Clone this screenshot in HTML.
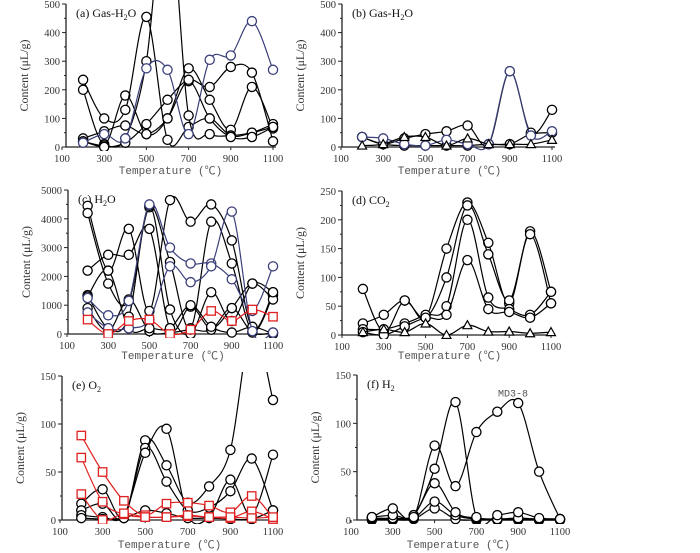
<!DOCTYPE html>
<html><head><meta charset="utf-8"><style>
body{margin:0;background:#fff}
svg{display:block}
text{font-family:"Liberation Serif","Noto Serif CJK SC",serif;fill:#333}
.mono{font-family:"Liberation Mono","Noto Sans CJK SC",monospace;fill:#555}
</style></head><body>
<svg id="chart" width="700" height="553" viewBox="0 0 700 553" xmlns="http://www.w3.org/2000/svg"></svg>
<script>
const temps=[200,300,400,500,600,700,800,900,1000,1100];
const xTicks=[100,300,500,700,900,1100];
// panel a
const aBlue=[15,45,30,275,270,45,305,320,440,270];
const aS1=[200,10,180,45,100,275,165,60,210,65];
const aS2=[235,100,130,455,25,70,100,40,50,80];
const aS3=[20,5,30,300,900,110,45,40,50,70];
const aS4=[30,55,75,45,100,230,100,35,35,70];
const aS5=[20,0,15,80,165,235,210,280,260,20];
// panel b
const bBlue=[35,30,10,5,25,10,10,265,40,55];
const bS1=[35,10,30,45,55,75,10,265,50,130];
const bS2=[35,10,5,5,5,5,10,10,45,50];
const bTri=[5,10,35,35,5,30,10,10,10,25];
// panel c
const cS1=[4450,2200,3650,800,4650,3900,4500,3250,200,1450];
const cS2=[4200,1750,1150,4400,2500,200,3900,2450,100,1350];
const cS3=[2200,2750,2750,3650,200,950,200,900,1750,1200];
const cS4=[1350,200,600,4450,850,0,1450,450,1750,1450];
const cS5=[900,100,1200,100,50,150,150,900,50,50];
const cS6=[1300,2200,200,200,200,1000,250,50,250,0];
const cBlue1=[1250,650,1150,4500,3000,2450,2450,1900,800,2350];
const cBlue2=[750,200,200,500,2350,1800,2350,4250,100,50];
const cRed=[500,0,450,500,0,150,800,450,850,600];
// panel d
const dS1=[80,5,60,30,150,230,160,55,180,75];
const dS2=[20,35,60,30,100,225,140,60,175,55];
const dS3=[10,10,20,35,50,200,65,45,35,75];
const dS4=[5,0,15,30,35,130,45,40,30,55];
const dTri=[5,10,5,20,0,17,6,6,3,5];
// panel e
const eS1=[17,32,3,83,57,18,35,73,200,125];
const eS2=[10,17,2,75,40,10,13,30,64,10];
const eS3=[5,3,5,70,95,5,3,42,5,68];
const eS4=[2,1,2,10,7,2,2,1,1,10];
const eRed1=[88,50,20,5,17,18,15,8,25,2];
const eRed2=[65,19,6,3,3,4,3,2,9,1];
const eRed3=[27,0,7,3,3,5,3,3,2,3];
// panel f
const fMD38=[3,12,3,77,35,91,112,121,50,1];
const fS2=[3,5,5,53,122,3,5,8,2,1];
const fS3=[2,2,5,38,8,2,1,2,1,1];
const fS4=[1,1,2,19,5,1,1,1,0,0];
const fS5=[0,0,1,12,1,0,0,0,0,0];
const aTicks=[0,100,200,300,400,500], cTicks=[0,1000,2000,3000,4000,5000],
      dTicks=[0,50,100,150,200,250], eTicks=[0,50,100,150];

const NS="http://www.w3.org/2000/svg";
const svg=document.getElementById('chart');
function el(tag,attrs,parent){const e=document.createElementNS(NS,tag);for(const k in attrs)e.setAttribute(k,attrs[k]);(parent||svg).appendChild(e);return e;}

const panels=[
 {id:'a',title:'(a) Gas-H',sub:'2',rest:'O',x100:62,x1100:273,axisX:66,y0:147,yTop:4,ymax:500,ticks:aTicks,xtitleY:174,
  series:[[aS1,'#000','c'],[aS2,'#000','c'],[aS3,'#000','c'],[aS4,'#000','c'],[aS5,'#000','c'],[aBlue,'#3a3f7a','c']]},
 {id:'b',title:'(b) Gas-H',sub:'2',rest:'O',x100:341,x1100:552,axisX:342,y0:147,yTop:4,ymax:500,ticks:aTicks,xtitleY:174,
  series:[[bS2,'#000','c'],[bS1,'#000','c'],[bBlue,'#3a3f7a','c'],[bTri,'#000','t']]},
 {id:'c',title:'(c) H',sub:'2',rest:'O',x100:67,x1100:273,axisX:68,y0:334,yTop:190,ymax:5000,ticks:cTicks,xtitleY:359,
  series:[[cS1,'#000','c'],[cS2,'#000','c'],[cS3,'#000','c'],[cS4,'#000','c'],[cS5,'#000','c'],[cS6,'#000','c'],[cBlue1,'#3a3f7a','c'],[cBlue2,'#3a3f7a','c'],[cRed,'#e02020','s']]},
 {id:'d',title:'(d) CO',sub:'2',rest:'',x100:342,x1100:551,axisX:342,y0:335,yTop:191,ymax:250,ticks:dTicks,xtitleY:359,
  series:[[dS1,'#000','c'],[dS2,'#000','c'],[dS3,'#000','c'],[dS4,'#000','c'],[dTri,'#000','t']]},
 {id:'e',title:'(e) O',sub:'2',rest:'',x100:60,x1100:273,axisX:62,y0:520,yTop:376,ymax:150,ticks:eTicks,xtitleY:548,
  series:[[eS1,'#000','c'],[eS2,'#000','c'],[eS3,'#000','c'],[eS4,'#000','c'],[eRed1,'#e02020','s'],[eRed2,'#e02020','s'],[eRed3,'#e02020','s']]},
 {id:'f',title:'(f) H',sub:'2',rest:'',x100:351,x1100:560,axisX:357,y0:520,yTop:375,ymax:150,ticks:eTicks,xtitleY:548,
  series:[[fS5,'#000','c'],[fS4,'#000','c'],[fS3,'#000','c'],[fS2,'#000','c'],[fMD38,'#000','c']]}
];

function smooth(pts){
  let d='M'+pts[0][0]+','+pts[0][1];
  for(let i=0;i<pts.length-1;i++){
    const p0=pts[i-1]||pts[i],p1=pts[i],p2=pts[i+1],p3=pts[i+2]||p2;
    const c1=[p1[0]+(p2[0]-p0[0])/6,p1[1]+(p2[1]-p0[1])/6];
    const c2=[p2[0]-(p3[0]-p1[0])/6,p2[1]-(p3[1]-p1[1])/6];
    d+=' C'+c1[0].toFixed(1)+','+c1[1].toFixed(1)+' '+c2[0].toFixed(1)+','+c2[1].toFixed(1)+' '+p2[0].toFixed(1)+','+p2[1].toFixed(1);
  }
  return d;
}

panels.forEach(p=>{
  const g=el('g',{});
  
  
  const xs=v=>p.x100+(v-100)*(p.x1100-p.x100)/1000;
  const ys=v=>p.y0-v*(p.y0-p.yTop)/p.ymax;
  const right=p.x1100+4;
  const cp=el('clipPath',{id:'clip-'+p.id},g);
  el('rect',{x:p.axisX,y:p.yTop-4,width:right-p.axisX+10,height:p.y0-p.yTop+8},cp);
  const ax=el('path',{d:'M'+p.axisX+','+p.yTop+' V'+p.y0+' H'+(p.x1100+3),stroke:'#222','stroke-width':1.3,fill:'none'},g);
  
  
  p.ticks.forEach((t,i)=>{
    const y=ys(t);
    el('line',{x1:p.axisX-4,x2:p.axisX,y1:y,y2:y,stroke:'#222','stroke-width':1},g);
    if(i<p.ticks.length-1){const ym=ys(t+(p.ticks[1]-p.ticks[0])/2);el('line',{x1:p.axisX-2,x2:p.axisX,y1:ym,y2:ym,stroke:'#222','stroke-width':1},g);}
    const tx=el('text',{x:p.axisX-6,y:y+4,'text-anchor':'end','font-size':10.5},g);
    tx.textContent=t;
    
    
  });
  xTicks.forEach(t=>{
    const x=xs(t);
    el('line',{x1:x,x2:x,y1:p.y0,y2:p.y0+3,stroke:'#222','stroke-width':1},g);
    const tx=el('text',{x:x,y:p.y0+15,'text-anchor':'middle','font-size':10.5},g);
    tx.textContent=t;
    
    
  });
  const xt=el('text',{x:(p.x100+p.x1100)/2+3,y:p.xtitleY,'text-anchor':'middle','font-size':11,class:'mono'},g);
  xt.textContent='Temperature (℃)';
  
  
  const yx=p.axisX-38, yc=(p.y0+p.yTop)/2;
  const yt=el('text',{x:yx,y:yc,'text-anchor':'middle','font-size':12,transform:'rotate(-90 '+yx+' '+yc+')'},g);
  yt.textContent='Content (μL/g)';
  
  
  const tt=el('text',{x:p.axisX+10,y:p.yTop+13,'font-size':12,style:'fill:#111'},g);
  tt.textContent=p.title;
  const sb=el('tspan',{'font-size':8,dy:3},tt);sb.textContent=p.sub;
  if(p.rest){const r=el('tspan',{dy:-3},tt);r.textContent=p.rest;}
  
  
  const sg=el('g',{'clip-path':'url(#clip-'+p.id+')'},g);
  p.series.forEach(([vals,col,mk])=>{
    const pts=vals.map((v,i)=>[xs(temps[i]),ys(v)]);
    const path=el('path',{d:smooth(pts),stroke:col,'stroke-width':1.2,fill:'none'},sg);
    
    
    pts.forEach(([x,y])=>{
      if(y<p.yTop-2)return;
      let m;
      if(mk==='c')m=el('circle',{cx:x,cy:y,r:4.6,fill:'#fff',stroke:col==='#3a3f7a'?col:'#000','stroke-width':1.3},sg);
      else if(mk==='s')m=el('rect',{x:x-4.2,y:y-4.2,width:8.4,height:8.4,fill:'#fff',stroke:col,'stroke-width':1.3},sg);
      else m=el('path',{d:'M'+x+','+(y-4.5)+' L'+(x+4.5)+','+(y+3.5)+' L'+(x-4.5)+','+(y+3.5)+'Z',fill:'#fff',stroke:'#000','stroke-width':1.2},sg);
      
      
    });
  });
  if(p.id==='f'){
    const l=el('text',{x:xs(875),y:ys(128),'text-anchor':'middle','font-size':10,class:'mono'},g);
    l.textContent='MD3-8';
    
    
  }
});
</script>
</body></html>
